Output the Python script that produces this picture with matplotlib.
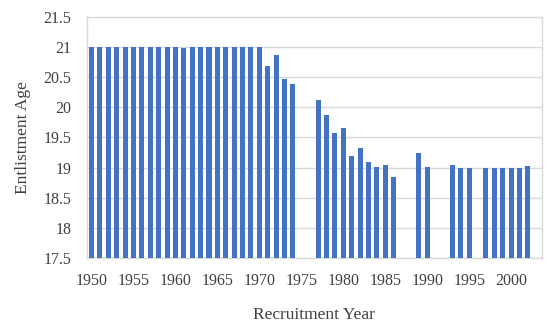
import numpy as np
import matplotlib
matplotlib.use('Agg')
import matplotlib.pyplot as plt

# Recruitment year -> enlistment age (None = no data for that year)
years = list(range(1950, 2003))
ages = [
    21.0, 21.0, 21.0, 21.0, 21.0, 21.0, 21.0, 21.0, 21.0, 21.0,   # 1950-59
    21.0, 20.98, 21.0, 21.0, 21.0, 21.0, 21.0, 21.0, 21.0, 21.0,  # 1960-69
    21.0, 20.69, 20.87, 20.47, 20.39, None, None, 20.12, 19.88, 19.57,  # 1970-79
    19.66, 19.20, 19.32, 19.09, 19.01, 19.04, 18.84, None, None, 19.24,  # 1980-89
    19.01, None, None, 19.04, 19.0, 19.0, None, 19.0, 19.0, 19.0,  # 1990-99
    19.0, 19.0, 19.02,                                             # 2000-02
]
xticks = list(range(1950, 2001, 5))
yticks = [17.5, 18, 18.5, 19, 19.5, 20, 20.5, 21, 21.5]
yticklabels = ['17.5', '18', '18.5', '19', '19.5', '20', '20.5', '21', '21.5']

BAR_COLOR = '#4472C4'
GRID_COLOR = '#d9d9d9'
TEXT_COLOR = '#404040'

plt.rcParams['font.family'] = ['Liberation Serif', 'DejaVu Serif']

fig = plt.figure(figsize=(5.5, 3.25), dpi=100)
ax = fig.add_axes([0.158, 0.206, 0.827, 0.742])

xs = [y for y, a in zip(years, ages) if a is not None]
hs = [a - 17.5 for a in ages if a is not None]
ax.bar(xs, hs, bottom=17.5, width=0.6, color=BAR_COLOR, zorder=3)

ax.set_xlim(1949.45, 2003.65)
ax.set_ylim(17.5, 21.5)
ax.set_xticks(xticks)
ax.set_xticklabels([str(t) for t in xticks])
ax.set_yticks(yticks)
ax.set_yticklabels(yticklabels)
ax.tick_params(axis='both', length=0, labelsize=11.5, colors=TEXT_COLOR)
ax.tick_params(axis='x', pad=11)
ax.tick_params(axis='y', pad=11)

ax.grid(axis='y', color=GRID_COLOR, linewidth=1.0, zorder=0)
for s in ax.spines.values():
    s.set_color(GRID_COLOR)
    s.set_linewidth(1.0)

ax.set_xlabel('Recruitment Year', fontsize=12.5, color=TEXT_COLOR, labelpad=13)
ax.set_ylabel('Entlistment Age', fontsize=12.5, color=TEXT_COLOR, labelpad=9)

fig.savefig('out.png', dpi=100)
